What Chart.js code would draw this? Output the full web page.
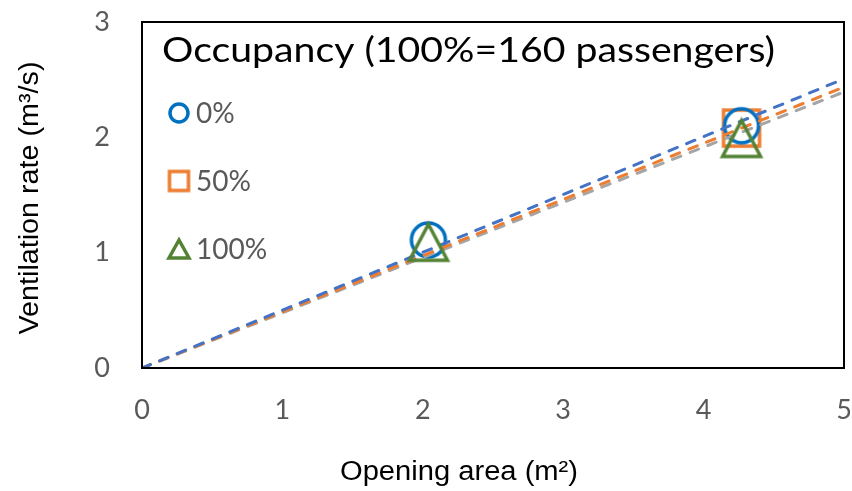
<!DOCTYPE html>
<html>
<head>
<meta charset="utf-8">
<script src="https://cdn.jsdelivr.net/npm/chart.js@4/dist/chart.umd.min.js"></script>
<style>
  html, body { margin: 0; padding: 0; background: #ffffff; }
  #wrap { width: 852px; height: 491px; position: relative; }
</style>
</head>
<body>
<div id="wrap"><canvas id="chart" width="852" height="491"></canvas></div>
<script>
// Opening area (m²) of the measured cases
const openingArea = [2.04, 4.27];
// Ventilation rate (m³/s) per occupancy level; null = not measured
const occupancy0 = [1.11, 2.10];
const occupancy50 = [null, 2.08];
const occupancy100 = [1.09, 1.99];

const seriesLabels = ['0%', '50%', '100%'];
const chartTitle = 'Occupancy (100%=160 passengers)';
const xTitle = 'Opening area (m²)';
const yTitle = 'Ventilation rate (m³/s)';
const xTicks = [0, 1, 2, 3, 4, 5];
const yTicks = [0, 1, 2, 3];

const COL_CIRCLE = '#0070C0';
const COL_SQUARE = '#ED7D31';
const COL_TRI = '#548235';
const COL_TREND0 = '#4472C4';
const COL_TREND50 = '#ED7D31';
const COL_TREND100 = '#A5A5A5';

// Plot frame in canvas pixels
const PLOT = { left: 142, top: 22, right: 844, bottom: 368 };
const CANVAS_H = 491;

function toPoints(xs, ys) {
  const out = [];
  xs.forEach((x, i) => { if (ys[i] !== null) out.push({ x: x, y: ys[i] }); });
  return out;
}

// Linear trendline forced through the origin (least squares)
function trendThroughOrigin(xs, ys, xEnd) {
  let sxy = 0, sxx = 0;
  xs.forEach((x, i) => { if (ys[i] !== null) { sxy += x * ys[i]; sxx += x * x; } });
  const k = sxy / sxx;
  return [{ x: 0, y: 0 }, { x: xEnd, y: k * xEnd }];
}

// Hollow marker images, centred on the data point
function makeMarker(shape, w, h, color, lw) {
  const pad = Math.ceil(lw);
  const c = document.createElement('canvas');
  c.width = w + pad * 2; c.height = h + pad * 2;
  const g = c.getContext('2d');
  g.strokeStyle = color; g.lineWidth = lw; g.lineJoin = 'miter';
  const cx = c.width / 2, cy = c.height / 2;
  g.beginPath();
  if (shape === 'circle') {
    g.arc(cx, cy, w / 2, 0, Math.PI * 2);
  } else if (shape === 'square') {
    g.rect(cx - w / 2, cy - h / 2, w, h);
  } else {
    g.moveTo(cx, cy - h / 2);
    g.lineTo(cx + w / 2, cy + h / 2);
    g.lineTo(cx - w / 2, cy + h / 2);
    g.closePath();
  }
  g.stroke();
  return c;
}

const mkCircle = makeMarker('circle', 34, 34, COL_CIRCLE, 3.5);
const mkSquare = makeMarker('square', 36, 36, COL_SQUARE, 3.5);
const mkTri = makeMarker('triangle', 38, 36, COL_TRI, 3.5);
const lgCircle = makeMarker('circle', 18, 18, COL_CIRCLE, 3.5);
const lgSquare = makeMarker('square', 19, 19, COL_SQUARE, 3.5);
const lgTri = makeMarker('triangle', 20, 18, COL_TRI, 3.5);

function fitText(ctx, text, x, y, width, font, color, align) {
  ctx.save();
  ctx.font = font;
  ctx.fillStyle = color;
  ctx.textBaseline = 'alphabetic';
  const w0 = ctx.measureText(text).width;
  const s = width / w0;
  ctx.translate(x, y);
  ctx.scale(s, 1);
  ctx.textAlign = align || 'left';
  ctx.fillText(text, 0, 0);
  ctx.restore();
}

// Pins the plot area to a fixed frame
const fixedFrame = {
  id: 'fixedFrame',
  afterLayout(chart) {
    const A = PLOT;
    Object.assign(chart.chartArea, A, { width: A.right - A.left, height: A.bottom - A.top });
    const x = chart.scales.x, y = chart.scales.y;
    Object.assign(x, { left: A.left, right: A.right, width: A.right - A.left,
                       top: A.bottom, bottom: CANVAS_H, height: CANVAS_H - A.bottom });
    Object.assign(y, { left: 0, right: A.left, width: A.left,
                       top: A.top, bottom: A.bottom, height: A.bottom - A.top });
    x.configure();
    y.configure();
  }
};

const annotations = {
  id: 'annotations',
  afterDatasetsDraw(chart) {
    const { ctx, chartArea: a } = chart;
    ctx.save();
    ctx.strokeStyle = '#000000';
    ctx.lineWidth = 2;
    ctx.strokeRect(a.left, a.top, a.right - a.left, a.bottom - a.top);
    ctx.restore();
  },
  afterDraw(chart) {
    const ctx = chart.ctx;
    // Title inside the plot
    fitText(ctx, chartTitle, 162, 62, 613, '34px Lato, "Open Sans", sans-serif', '#000000', 'left');
    // Legend entries
    const items = [
      [lgCircle, seriesLabels[0], 113],
      [lgSquare, seriesLabels[1], 181],
      [lgTri, seriesLabels[2], 249]
    ];
    ctx.save();
    ctx.font = '28px Lato, "Open Sans", sans-serif';
    ctx.fillStyle = '#595959';
    ctx.textBaseline = 'middle';
    ctx.textAlign = 'left';
    items.forEach(([img, label, y]) => {
      ctx.drawImage(img, 179 - img.width / 2, y - img.height / 2);
      ctx.fillText(label, 196, y + 1);
    });
    ctx.restore();
    // Axis titles
    fitText(ctx, xTitle, 459, 480, 238, '27px "Liberation Sans", Arial, sans-serif', '#000000', 'center');
    ctx.save();
    ctx.translate(38, 198);
    ctx.rotate(-Math.PI / 2);
    fitText(ctx, yTitle, 0, 0, 273, '27px "Liberation Sans", Arial, sans-serif', '#000000', 'center');
    ctx.restore();
  }
};

const tickFont = { family: 'Lato, "Open Sans", sans-serif', size: 27 };
const trendStyle = { showLine: true, borderWidth: 3, borderDash: [9, 10], borderCapStyle: 'round', pointRadius: 0, order: 1 };

new Chart(document.getElementById('chart'), {
  type: 'scatter',
  data: {
    datasets: [
      {
        label: seriesLabels[2],
        data: toPoints(openingArea, occupancy100),
        pointStyle: mkTri, pointRadius: 20, pointHoverRadius: 20,
        order: 0
      },
      Object.assign({ label: 'trend ' + seriesLabels[0], borderColor: COL_TREND0,
        data: trendThroughOrigin(openingArea, occupancy0, 5) }, trendStyle),
      Object.assign({ label: 'trend ' + seriesLabels[1], borderColor: COL_TREND50,
        data: trendThroughOrigin(openingArea, occupancy50, 5) }, trendStyle),
      Object.assign({ label: 'trend ' + seriesLabels[2], borderColor: COL_TREND100,
        data: trendThroughOrigin(openingArea, occupancy100, 5) }, trendStyle),
      {
        label: seriesLabels[0],
        data: toPoints(openingArea, occupancy0),
        pointStyle: mkCircle, pointRadius: 18, pointHoverRadius: 18,
        order: 2
      },
      {
        label: seriesLabels[1],
        data: toPoints(openingArea, occupancy50),
        pointStyle: mkSquare, pointRadius: 20, pointHoverRadius: 20,
        order: 3
      }
    ]
  },
  options: {
    responsive: false,
    animation: false,
    events: [],
    layout: { padding: { top: 22, right: 8, left: 0, bottom: 0 } },
    plugins: {
      legend: { display: false },
      tooltip: { enabled: false },
      title: { display: false }
    },
    scales: {
      x: {
        type: 'linear', min: 0, max: 5,
        afterBuildTicks(scale) { scale.ticks = xTicks.map(v => ({ value: v })); },
        afterFit(scale) { scale.height = 123; },
        grid: { display: false, drawTicks: false },
        border: { display: false },
        ticks: { color: '#595959', font: tickFont, padding: 26, maxRotation: 0 }
      },
      y: {
        type: 'linear', min: 0, max: 3,
        afterBuildTicks(scale) { scale.ticks = yTicks.map(v => ({ value: v })); },
        afterFit(scale) { scale.width = 142; },
        grid: { display: false, drawTicks: false },
        border: { display: false },
        ticks: { color: '#595959', font: tickFont, padding: 32 }
      }
    }
  },
  plugins: [fixedFrame, annotations]
});
</script>
</body>
</html>
